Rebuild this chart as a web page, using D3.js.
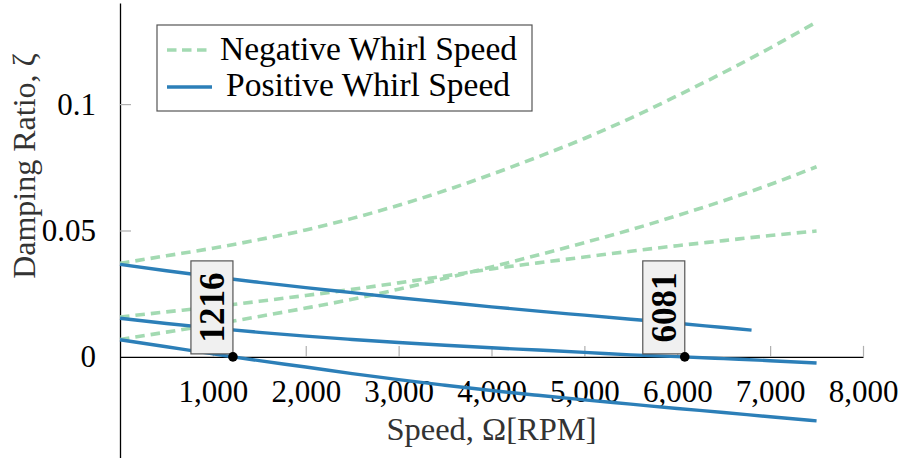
<!DOCTYPE html>
<html lang="en">
<head>
  <meta charset="UTF-8">
  <title>Damping Ratio vs Speed</title>
  <script src="https://d3js.org/d3.v7.min.js"></script>
  <style type="text/css">
    body { margin: 0; background: #fff; }
    svg text { font-family: "Liberation Serif", "DejaVu Serif", serif; }
  </style>
</head>
<body>
<script type="text/javascript">
  // speeds, RPM
  var rpm = [0, 500, 1000, 1500, 2000, 2500, 3000, 3500, 4000, 4500, 5000, 5500, 6000, 6500, 7000, 7500];
  var rpmShort = [0, 500, 1000, 1500, 2000, 2500, 3000, 3500, 4000, 4500, 5000, 5500, 6000, 6500, 6800];

  // negative whirl (dashed)
  var negA = [0.0370, 0.0400, 0.0430, 0.0464, 0.0502, 0.0548, 0.0600, 0.0658, 0.0722, 0.0791, 0.0864, 0.0945, 0.1033, 0.1125, 0.1222, 0.1325];
  var negB = [0.0158, 0.0178, 0.0198, 0.0220, 0.0243, 0.0267, 0.0293, 0.0320, 0.0348, 0.0372, 0.0395, 0.0418, 0.0440, 0.0460, 0.0480, 0.0498];
  var negC = [0.0069, 0.0098, 0.0128, 0.0160, 0.0193, 0.0228, 0.0268, 0.0311, 0.0356, 0.0403, 0.0452, 0.0503, 0.0559, 0.0618, 0.0682, 0.0752];

  // positive whirl (solid)
  var posA = [0.0366, 0.0341, 0.0317, 0.0295, 0.0274, 0.0254, 0.0234, 0.0216, 0.0198, 0.0181, 0.0165, 0.0149, 0.0133, 0.0116, 0.0106];
  var posB = [0.0153, 0.0132, 0.0114, 0.0097, 0.0082, 0.0069, 0.0057, 0.0046, 0.0036, 0.0027, 0.0018, 0.0008, 0.0001, -0.0007, -0.0015, -0.0024];
  var posC = [0.0068, 0.0040, 0.0012, -0.0015, -0.0040, -0.0066, -0.0090, -0.0112, -0.0133, -0.0152, -0.0170, -0.0187, -0.0204, -0.0220, -0.0237, -0.0253];

  // zero crossings
  var crossings = [1216, 6081];

  var xTicks = [1000, 2000, 3000, 4000, 5000, 6000, 7000, 8000];
  var yTicks = [0, 0.05, 0.1];

  var green = "#a3dab2";
  var blue = "#2c7fb8";

  var width = 903, height = 458;
  var svg = d3.select("body").append("svg")
              .attr("width", width)
              .attr("height", height);

  var x = d3.scaleLinear().domain([0, 8000]).range([120, 863]);
  var y = d3.scaleLinear().domain([-0.04, 0.14]).range([458, 3]);

  function pairs(xs, ys) {
    return xs.map(function(d, i) { return [d, ys[i]]; });
  }

  var line = d3.line()
               .x(function(d) { return x(d[0]); })
               .y(function(d) { return y(d[1]); })
               .curve(d3.curveMonotoneX);

  // y axis
  var yAxis = svg.append("g")
     .attr("transform", "translate(" + x(0) + ",0)")
     .call(d3.axisLeft(y).tickValues(yTicks).tickSizeInner(-11).tickSizeOuter(0).tickPadding(24)
            .tickFormat(function(d) { return d === 0 ? "0" : String(d); }));

  // x axis on zeta = 0
  var xAxis = svg.append("g")
     .attr("transform", "translate(0," + y(0) + ")")
     .call(d3.axisBottom(x).tickValues(xTicks).tickSizeInner(-11).tickSizeOuter(0).tickPadding(23)
            .tickFormat(d3.format(",")));

  [xAxis, yAxis].forEach(function(g) {
    g.select(".domain").attr("stroke", "#000").attr("stroke-width", 1.3);
    g.selectAll(".tick line").attr("stroke", "#b0b0b0").attr("stroke-width", 1.2);
    g.selectAll(".tick text").attr("fill", "#000").style("font-size", "31px");
  });
  yAxis.selectAll(".tick").filter(function(d) { return d === 0; }).select("line").remove();
  xAxis.raise();

  // curves
  [negA, negB, negC].forEach(function(s) {
    svg.append("path")
       .datum(pairs(rpm, s))
       .attr("d", line)
       .attr("fill", "none")
       .attr("stroke", green)
       .attr("stroke-width", 3.6)
       .attr("stroke-dasharray", "9.5,6");
  });

  [[rpmShort, posA], [rpm, posB], [rpm, posC]].forEach(function(s) {
    svg.append("path")
       .datum(pairs(s[0], s[1]))
       .attr("d", line)
       .attr("fill", "none")
       .attr("stroke", blue)
       .attr("stroke-width", 3.4);
  });

  // crossing labels
  crossings.forEach(function(c) {
    var px = x(c), py = y(0);
    svg.append("rect")
       .attr("x", px - 42).attr("y", py - 96)
       .attr("width", 42).attr("height", 93)
       .attr("fill", "#f0f0f0")
       .attr("stroke", "#555")
       .attr("stroke-width", 1.2);
    svg.append("text")
       .attr("transform", "translate(" + (px - 20) + "," + (py - 49.5) + ") rotate(-90)")
       .attr("text-anchor", "middle")
       .attr("dominant-baseline", "central")
       .style("font-size", "35px")
       .style("font-weight", "bold")
       .text(c);
    svg.append("circle")
       .attr("cx", px).attr("cy", py).attr("r", 4.8)
       .attr("fill", "#000");
  });

  // axis labels
  svg.append("text")
     .attr("x", (x(0) + x(8000)) / 2).attr("y", 440)
     .attr("text-anchor", "middle")
     .attr("fill", "#333")
     .style("font-size", "32.5px")
     .text("Speed, \u03A9[RPM]");

  svg.append("text")
     .attr("transform", "translate(35,166) rotate(-90)")
     .attr("text-anchor", "middle")
     .attr("fill", "#333")
     .style("font-size", "32px")
     .text("Damping Ratio, \u03B6");

  // legend
  var legend = svg.append("g");
  legend.append("rect")
        .attr("x", 157).attr("y", 25)
        .attr("width", 375).attr("height", 86)
        .attr("fill", "#fff")
        .attr("stroke", "#555")
        .attr("stroke-width", 1.2);
  legend.append("line")
        .attr("x1", 167).attr("x2", 207).attr("y1", 50).attr("y2", 50)
        .attr("stroke", green).attr("stroke-width", 3.6).attr("stroke-dasharray", "9.5,5.5");
  legend.append("line")
        .attr("x1", 167).attr("x2", 212).attr("y1", 87).attr("y2", 87)
        .attr("stroke", blue).attr("stroke-width", 3.4);
  legend.append("text")
        .attr("x", 220).attr("y", 60)
        .style("font-size", "33.5px")
        .text("Negative Whirl Speed");
  legend.append("text")
        .attr("x", 226).attr("y", 96)
        .style("font-size", "33.5px")
        .text("Positive Whirl Speed");
</script>
</body>
</html>
